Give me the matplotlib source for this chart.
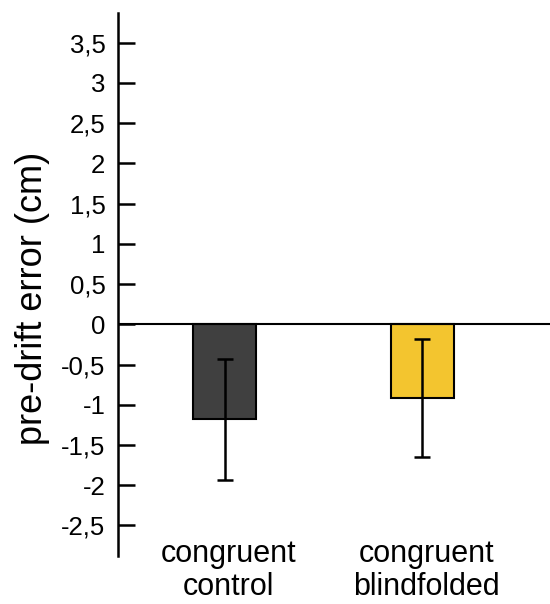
import numpy as np
import matplotlib
matplotlib.use("Agg")
import matplotlib.pyplot as plt
import matplotlib.transforms as mtransforms

plt.rcParams['font.family'] = ['Liberation Sans', 'DejaVu Sans']

# data
conditions = ['congruent\ncontrol', 'congruent\nblindfolded']
mean_error = [-1.18, -0.915]
err = [0.75, 0.73]
bar_colors = ['#404040', '#f3c52f']
yticks = np.arange(-2.5, 3.51, 0.5)

fig = plt.figure(figsize=(5.5, 6.04), dpi=100)
ax = fig.add_axes([0.2145, 0.0795, 0.7855, 0.899])

x = np.arange(len(conditions))
ax.bar(x, mean_error, width=0.32, color=bar_colors, edgecolor='black', linewidth=1.5, zorder=2)
ax.errorbar(x, mean_error, yerr=err, fmt='none', ecolor='black', elinewidth=1.8,
            capsize=5.8, capthick=1.8, zorder=3)
ax.axhline(0, color='black', linewidth=1.5, zorder=4)

ax.set_xlim(-0.54, 1.646)
ax.set_ylim(-2.88, 3.87)

ax.set_yticks(yticks)
ax.set_yticklabels([('%g' % v).replace('.', ',') for v in yticks])
ax.tick_params(axis='y', direction='in', length=12, width=1.8, pad=9, labelsize=18.5)
ax.set_xticks([])

for s in ['top', 'right', 'bottom']:
    ax.spines[s].set_visible(False)
ax.spines['left'].set_linewidth(1.8)

# category labels sit partly inside the axes area (baseline = last line)
trans = mtransforms.blended_transform_factory(ax.transData, ax.transAxes)
for xi, lab in zip(x, conditions):
    ax.text(xi + 0.02, -0.072, lab, transform=trans, ha='center', va='baseline',
            fontsize=22, linespacing=1.15)

fig.text(0.06, 0.5066, 'pre-drift error (cm)', rotation=90, ha='center', va='center', fontsize=26)

fig.savefig('out.png', dpi=100)
